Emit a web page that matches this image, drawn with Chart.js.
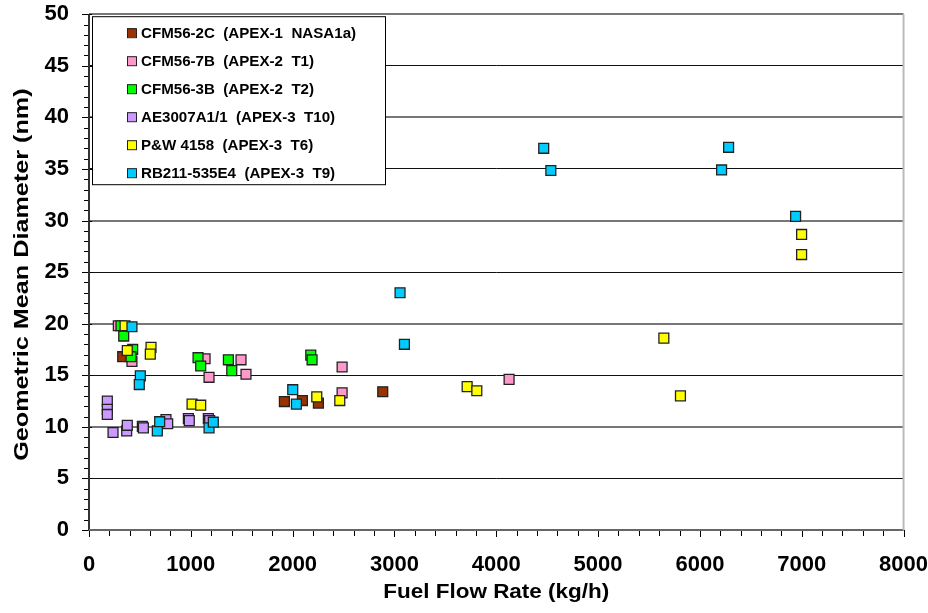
<!DOCTYPE html>
<html lang="en">
<head>
  <meta charset="UTF-8" />
  <title>Geometric Mean Diameter vs Fuel Flow Rate</title>
  <style>
    body { margin: 0; padding: 0; background: #fff; overflow: hidden; }
    #wrap { width: 928px; height: 613px; position: relative; overflow: hidden; }
    #grafico { position: absolute; left: 0; top: -19px; }
  </style>
</head>
<body>
  <div id="wrap"><canvas id="grafico" width="942" height="632"></canvas></div>

  <script src="https://cdn.jsdelivr.net/npm/chart.js"></script>
  <script>
    // series labels, colours
    const seriesNames = [
      'CFM56-2C  (APEX-1  NASA1a)',
      'CFM56-7B  (APEX-2  T1)',
      'CFM56-3B  (APEX-2  T2)',
      'AE3007A1/1  (APEX-3  T10)',
      'P&W 4158  (APEX-3  T6)',
      'RB211-535E4  (APEX-3  T9)'
    ];
    const seriesColors = ['#993300', '#FF99CC', '#00FF00', '#CC99FF', '#FFFF00', '#00CCFF'];

    // fuel flow (kg/h) and GMD (nm) per engine
    const cfm562cX = [331, 1919, 2096, 2253, 2885];
    const cfm562cY = [16.8, 12.45, 12.55, 12.3, 13.4];

    const cfm567bX = [288, 422, 1140, 1179, 1493, 1542, 2486, 2486, 4126];
    const cfm567bY = [19.8, 16.35, 16.6, 14.8, 16.5, 15.1, 15.8, 13.3, 14.6];

    const cfm563bX = [314, 341, 429, 413, 1071, 1097, 1369, 1402, 2178, 2191];
    const cfm563bY = [19.8, 18.8, 17.5, 16.8, 16.7, 15.9, 16.5, 15.45, 16.95, 16.5];

    const ae3007X = [180, 180, 180, 236, 370, 376, 524, 534, 756, 773, 976, 985, 1172, 1185];
    const ae3007Y = [12.5, 11.7, 11.2, 9.45, 9.6, 10.15, 10.05, 9.9, 10.7, 10.3, 10.8, 10.6, 10.8, 10.6];

    const pw4158X = [354, 376, 609, 602, 1012, 1097, 2237, 2463, 3714, 3809, 5646, 5809, 6999, 6999];
    const pw4158Y = [19.8, 17.4, 17.7, 17.05, 12.2, 12.1, 12.9, 12.55, 13.9, 13.5, 18.6, 13.0, 28.65, 26.7];

    const rb211X = [422, 504, 494, 671, 694, 1179, 1221, 2001, 2037, 3055, 3098, 4466, 4536, 6213, 6282, 6940];
    const rb211Y = [19.7, 14.95, 14.1, 9.6, 10.5, 9.9, 10.45, 13.6, 12.2, 23.0, 18.0, 37.0, 34.85, 34.9, 37.1, 30.4];

    const seriesX = [cfm562cX, cfm567bX, cfm563bX, ae3007X, pw4158X, rb211X];
    const seriesY = [cfm562cY, cfm567bY, cfm563bY, ae3007Y, pw4158Y, rb211Y];

    const xTicks = [0, 1000, 2000, 3000, 4000, 5000, 6000, 7000, 8000];
    const yTicks = [0, 5, 10, 15, 20, 25, 30, 35, 40, 45, 50];

    const xTitle = 'Fuel Flow Rate (kg/h)';
    const yTitle = 'Geometric Mean Diameter (nm)';

    const FONT = 'Arial, "Liberation Sans", sans-serif';

    const datasets = seriesNames.map((name, i) => ({
      label: name,
      data: seriesX[i].map((x, k) => ({ x: x, y: seriesY[i][k] })),
      pointStyle: 'rect',
      pointRadius: 7,
      pointHoverRadius: 7,
      backgroundColor: seriesColors[i],
      borderColor: '#222',
      borderWidth: 1.3,
      showLine: false,
      order: seriesNames.length - i
    }));

    // minor/major tick marks, axis lines and the (slightly wide) axis titles
    const axisPlugin = {
      id: 'axisTicks',
      afterDraw(chart) {
        const c = chart.ctx;
        const xs = chart.scales.x, ys = chart.scales.y;
        const a = chart.chartArea;
        c.save();
        c.strokeStyle = '#000';
        c.lineWidth = 1;
        for (let v = 0; v <= 50; v++) {
          const py = Math.round(ys.getPixelForValue(v)) + 0.5;
          const major = v % 5 === 0;
          c.beginPath();
          c.moveTo(a.left - (major ? 7 : 5), py);
          c.lineTo(a.left + (major ? 3 : 0), py);
          c.stroke();
        }
        for (let v = 0; v <= 8000; v += 200) {
          const px = Math.round(xs.getPixelForValue(v)) + 0.5;
          c.beginPath();
          c.moveTo(px, a.bottom);
          c.lineTo(px, a.bottom + (v % 1000 === 0 ? 7 : 6));
          c.stroke();
        }
        c.strokeStyle = '#333';
        c.lineWidth = 2;
        c.beginPath();
        c.moveTo(a.left, a.top);
        c.lineTo(a.left, a.bottom + 1);
        c.stroke();
        c.strokeStyle = '#666';
        c.beginPath();
        c.moveTo(a.left, a.bottom);
        c.lineTo(a.right, a.bottom);
        c.stroke();
        c.strokeStyle = '#bbb';
        c.beginPath();
        c.moveTo(a.right, a.top);
        c.lineTo(a.right, a.bottom);
        c.stroke();

        c.fillStyle = '#000';
        c.font = 'bold 21px ' + FONT;
        c.textAlign = 'center';
        c.textBaseline = 'middle';
        c.save();
        c.translate((a.left + a.right) / 2, a.bottom + 62);
        c.scale(1.07, 1);
        c.fillText(xTitle, 0, 0);
        c.restore();
        c.save();
        c.translate(22, (a.top + a.bottom) / 2 + 2.5);
        c.rotate(-Math.PI / 2);
        c.scale(1.2, 1);
        c.fillText(yTitle, 0, 0);
        c.restore();
        c.restore();
      }
    };

    // boxed legend in the upper-left of the plot area
    const legendPlugin = {
      id: 'boxLegend',
      afterDraw(chart) {
        const c = chart.ctx;
        const a = chart.chartArea;
        const left = a.left + 3, top = a.top + 2, w = 293, h = 168;
        c.save();
        c.fillStyle = '#fff';
        c.fillRect(left, top, w, h);
        c.strokeStyle = '#000';
        c.lineWidth = 1;
        c.strokeRect(left + 0.5, top + 0.5, w, h);
        c.font = 'bold 14px ' + FONT;
        c.textBaseline = 'middle';
        chart.data.datasets.forEach((ds, i) => {
          const cy = top + 17 + i * 28;
          c.fillStyle = ds.backgroundColor;
          c.fillRect(left + 35, cy - 5, 9, 9);
          c.strokeStyle = '#222';
          c.strokeRect(left + 35.5, cy - 4.5, 9, 9);
          c.fillStyle = '#000';
          c.save();
          c.translate(left + 49, cy + 1);
          c.scale(1.08, 1);
          c.fillText(ds.label, 0, 0);
          c.restore();
        });
        c.restore();
      }
    };

    const ctx = document.getElementById('grafico').getContext('2d');
    new Chart(ctx, {
      type: 'scatter',
      data: { datasets: datasets },
      options: {
        responsive: false,
        animation: false,
        layout: { padding: { top: 0, right: 6, left: 0, bottom: 0 } },
        plugins: {
          legend: { display: false },
          tooltip: { enabled: false }
        },
        scales: {
          x: {
            type: 'linear',
            min: 0,
            max: 8000,
            afterBuildTicks: (s) => { s.ticks = xTicks.map(v => ({ value: v })); },
            afterFit: (s) => { s.height = 83; },
            grid: { display: false },
            border: { display: false },
            ticks: {
              color: '#000',
              padding: 14,
              font: { family: FONT, size: 22, weight: 'bold' },
              maxRotation: 0,
              callback: (v) => String(v)
            }
          },
          y: {
            type: 'linear',
            min: 0,
            max: 50,
            afterBuildTicks: (s) => { s.ticks = yTicks.map(v => ({ value: v })); },
            afterFit: (s) => { s.width = 89; },
            grid: {
              drawTicks: false,
              color: (c) => (c.tick && c.tick.value % 10 === 0) ? '#777' : '#111',
              lineWidth: (c) => (c.tick && c.tick.value % 10 === 0) ? 2 : 1
            },
            border: { display: false },
            ticks: {
              color: '#000',
              padding: 20,
              font: { family: FONT, size: 22, weight: 'bold' },
              callback: (v) => String(v)
            }
          }
        }
      },
      plugins: [axisPlugin, legendPlugin]
    });
  </script>
</body>
</html>
